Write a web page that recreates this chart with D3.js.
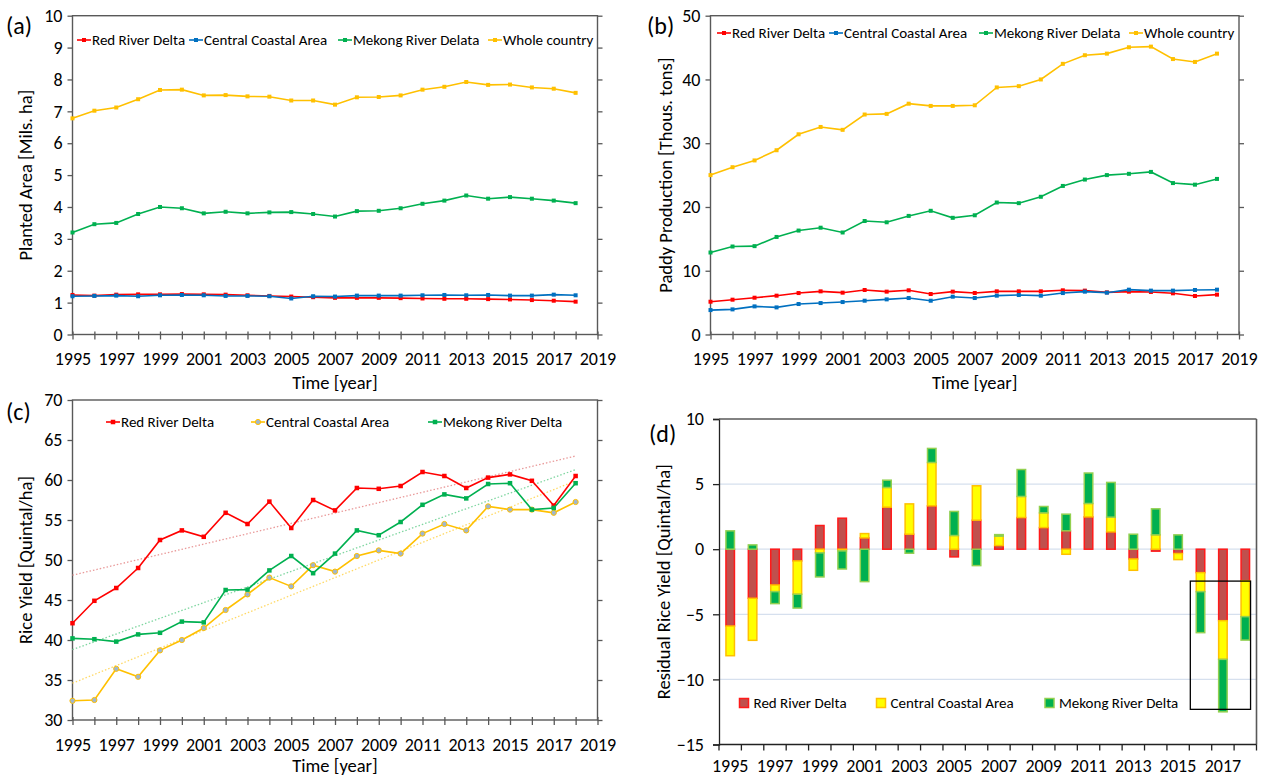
<!DOCTYPE html>
<html><head><meta charset="utf-8">
<script src="https://cdn.jsdelivr.net/npm/d3@7"></script>
<style>body{margin:0;background:#fff}svg{display:block}</style>
</head><body><svg id="chart" width="1266" height="778"></svg>
<script>
// ---------- data ----------
const years = [1995,1996,1997,1998,1999,2000,2001,2002,2003,2004,2005,2006,2007,2008,2009,2010,2011,2012,2013,2014,2015,2016,2017,2018];
const axisYears = [1995,1996,1997,1998,1999,2000,2001,2002,2003,2004,2005,2006,2007,2008,2009,2010,2011,2012,2013,2014,2015,2016,2017,2018,2019];

// (a) Planted area [Mils. ha]
const areaRed   = [1.24,1.22,1.25,1.26,1.26,1.27,1.26,1.25,1.23,1.21,1.19,1.17,1.15,1.15,1.15,1.14,1.13,1.12,1.12,1.11,1.10,1.08,1.06,1.03];
const areaBlue  = [1.20,1.21,1.22,1.20,1.23,1.24,1.23,1.21,1.21,1.20,1.13,1.20,1.19,1.22,1.22,1.22,1.23,1.24,1.23,1.24,1.22,1.22,1.25,1.23];
const areaGreen = [3.20,3.46,3.50,3.78,4.00,3.96,3.80,3.85,3.80,3.83,3.84,3.78,3.70,3.87,3.88,3.96,4.10,4.20,4.36,4.26,4.31,4.26,4.20,4.12];
const areaWhole = [6.78,7.02,7.12,7.38,7.67,7.68,7.50,7.51,7.47,7.46,7.34,7.34,7.21,7.44,7.45,7.50,7.68,7.77,7.92,7.83,7.84,7.75,7.71,7.58];

// (b) Paddy production [Thous. tons]
const prodRed   = [5.14,5.46,5.77,6.09,6.50,6.77,6.56,6.98,6.72,6.93,6.35,6.72,6.51,6.77,6.77,6.77,6.93,6.88,6.61,6.72,6.67,6.46,6.04,6.25];
const prodBlue  = [3.83,3.94,4.41,4.25,4.78,4.93,5.09,5.30,5.51,5.72,5.30,5.93,5.72,6.09,6.19,6.09,6.50,6.72,6.56,7.03,6.88,6.88,6.98,7.03];
const prodGreen = [12.86,13.80,13.86,15.30,16.30,16.75,16.00,17.80,17.60,18.60,19.40,18.30,18.70,20.70,20.60,21.60,23.30,24.30,25.00,25.20,25.50,23.75,23.50,24.40];
const prodWhole = [25.0,26.24,27.3,28.9,31.4,32.55,32.1,34.5,34.6,36.2,35.85,35.85,35.95,38.75,38.95,40.0,42.45,43.8,44.05,45.05,45.15,43.2,42.75,44.05];

// (c) Rice yield [Quintal/ha]
const yieldRed     = [42.1,44.9,46.5,49.0,52.5,53.7,52.9,55.9,54.5,57.3,54.0,57.5,56.2,59.0,58.9,59.25,61.0,60.5,59.0,60.3,60.7,59.9,56.8,60.5];
const yieldCentral = [32.4,32.5,36.4,35.4,38.7,40.0,41.5,43.75,45.7,47.8,46.7,49.35,48.55,50.5,51.2,50.8,53.3,54.5,53.7,56.7,56.3,56.3,55.9,57.25];
const yieldMekong  = [40.2,40.1,39.8,40.7,40.9,42.3,42.2,46.25,46.3,48.7,50.5,48.35,50.8,53.7,53.1,54.75,56.9,58.2,57.7,59.5,59.6,56.3,56.5,59.6];
const trendYears   = [1995,2018];
const trendRed     = [48.1,63.0];
const trendCentral = [34.6,59.9];
const trendMekong  = [38.8,61.3];

// (d) Residual rice yield [Quintal/ha]
const resRed     = [-5.9,-3.77,-2.75,-0.9,1.82,2.38,0.87,3.23,1.15,3.33,-0.59,2.23,0.28,2.43,1.66,1.41,2.48,1.33,-0.75,-0.15,-0.33,-1.8,-5.49,-2.42];
const resCentral = [-2.28,-3.23,-0.51,-2.56,-0.28,-0.13,0.33,1.51,2.33,3.33,1.05,2.64,0.72,1.62,1.13,-0.39,1.03,1.13,-0.87,1.1,-0.47,-1.46,-2.97,-2.76];
const resMekong  = [1.41,0.33,-0.92,-1.06,-1.85,-1.39,-2.49,0.56,-0.31,1.08,1.85,-1.26,0.12,2.07,0.49,1.28,2.34,2.67,1.15,2.0,1.1,-3.15,-4.03,-1.8];
const highlight  = {from:2016, to:2018, top:-2.45, bottom:-12.3};

const namesAB = ["Red River Delta","Central Coastal Area","Mekong River Delata","Whole country"];
const namesCD = ["Red River Delta","Central Coastal Area","Mekong River Delta"];

// ---------- drawing ----------
const FONT = "Carlito, Calibri, Lato, sans-serif";
const AX = "#595959";
const TICK = 18, TITLE = 18.5, LEG = 15, TAG = 24;
const svg = d3.select("#chart");

function styleText(sel, size){ sel.attr("font-family",FONT).attr("font-size",size).attr("fill","#000"); }

function linePanel(p){
  const x = d3.scaleLinear().domain([1995,2019]).range([p.x0,p.x1]);
  const y = d3.scaleLinear().domain(p.yDomain).range([p.yBot,p.yTop]);
  const g = svg.append("g");

  const yl = g.append("g").attr("transform",`translate(${p.x0},0)`)
    .call(d3.axisLeft(y).tickValues(p.yTicks).tickSize(5).tickPadding(5));
  yl.select(".domain").remove();
  yl.selectAll("line").attr("stroke",AX).attr("stroke-width",1.3);
  styleText(yl.selectAll("text"),TICK);
  const yr = g.append("g").attr("transform",`translate(${p.x1},0)`)
    .call(d3.axisRight(y).tickValues(p.yTicks).tickSize(5).tickFormat(""));
  yr.select(".domain").remove();
  yr.selectAll("line").attr("stroke",AX).attr("stroke-width",1.3);

  const xa = g.append("g").attr("transform",`translate(0,${p.yBot})`)
    .call(d3.axisBottom(x).tickValues(axisYears).tickSize(5).tickPadding(13)
      .tickFormat(d => (d % 2 === 1) ? String(d) : ""));
  xa.select(".domain").remove();
  xa.selectAll("line").attr("y1",-3).attr("stroke",AX).attr("stroke-width",1.3);
  styleText(xa.selectAll("text"),TICK);

  g.append("rect").attr("x",p.x0).attr("y",p.yTop).attr("width",p.x1-p.x0).attr("height",p.yBot-p.yTop)
    .attr("fill","none").attr("stroke",AX).attr("stroke-width",1.4);

  (p.trends||[]).forEach(t => {
    g.append("line").attr("x1",x(trendYears[0])).attr("x2",x(trendYears[1]))
      .attr("y1",y(t.v[0])).attr("y2",y(t.v[1]))
      .attr("stroke",t.color).attr("stroke-width",1.3).attr("stroke-dasharray","1.5,2");
  });

  const line = d3.line().x((d,i)=>x(years[i])).y(d=>y(d));
  p.series.forEach(s => {
    g.append("path").attr("d",line(s.v)).attr("fill","none").attr("stroke",s.color).attr("stroke-width",1.6);
    drawMarkers(g, s, s.v.map((d,i)=>[x(years[i]),y(d)]));
  });

  const xt = g.append("text").attr("x",(p.x0+p.x1)/2).attr("y",p.yBot+p.xTitleDy).attr("text-anchor","middle").text("Time [year]");
  styleText(xt,TITLE);
  const yt = g.append("text").attr("transform",`translate(${p.yTitleX},${(p.yTop+p.yBot)/2}) rotate(-90)`)
    .attr("text-anchor","middle").attr("dominant-baseline","central").text(p.yTitle);
  styleText(yt,TITLE);
  const tag = g.append("text").attr("x",p.tagX).attr("y",p.tagY).attr("dominant-baseline","central").text(p.tag);
  styleText(tag,TAG);

  p.legend.forEach(l => {
    const s = p.series[l.i];
    g.append("line").attr("x1",l.x).attr("x2",l.x+14).attr("y1",p.legendY).attr("y2",p.legendY)
      .attr("stroke",s.color).attr("stroke-width",1.6);
    drawMarkers(g, s, [[l.x+7,p.legendY]]);
    const t = g.append("text").attr("x",l.x+15).attr("y",p.legendY).attr("dominant-baseline","central").text(s.name);
    styleText(t,LEG);
  });
}

function drawMarkers(g, s, pts){
  if (s.marker === "circle"){
    g.append("g").selectAll("circle").data(pts).join("circle")
      .attr("cx",d=>d[0]).attr("cy",d=>d[1]).attr("r",2.6)
      .attr("fill",s.mfill).attr("stroke",s.color).attr("stroke-width",1);
  } else {
    const m = s.msize || 4;
    g.append("g").selectAll("rect").data(pts).join("rect")
      .attr("x",d=>d[0]-m/2).attr("y",d=>d[1]-m/2).attr("width",m).attr("height",m)
      .attr("fill",s.color);
  }
}

const RED="#ff0000", BLUE="#0070c0", GREEN="#00b050", YEL="#ffc000";

linePanel({
  x0:72.5, x1:597.5, yTop:15.7, yBot:334.5, yDomain:[0,10], yTicks:[0,1,2,3,4,5,6,7,8,9,10],
  yTitle:"Planted Area [Mils. ha]", yTitleX:25, xTitleDy:54, tag:"(a)", tagX:6, tagY:25,
  series:[
    {name:namesAB[0], v:areaRed, color:RED},
    {name:namesAB[1], v:areaBlue, color:BLUE},
    {name:namesAB[2], v:areaGreen, color:GREEN},
    {name:namesAB[3], v:areaWhole, color:YEL}],
  legendY:40, legend:[{i:0,x:77},{i:1,x:189},{i:2,x:338},{i:3,x:488}]
});

linePanel({
  x0:710.5, x1:1239, yTop:15.7, yBot:334.5, yDomain:[0,50], yTicks:[0,10,20,30,40,50],
  yTitle:"Paddy Production [Thous. tons]", yTitleX:665, xTitleDy:54, tag:"(b)", tagX:647, tagY:25,
  series:[
    {name:namesAB[0], v:prodRed, color:RED},
    {name:namesAB[1], v:prodBlue, color:BLUE},
    {name:namesAB[2], v:prodGreen, color:GREEN},
    {name:namesAB[3], v:prodWhole, color:YEL}],
  legendY:33, legend:[{i:0,x:717},{i:1,x:829},{i:2,x:979},{i:3,x:1129}]
});

linePanel({
  x0:72.5, x1:597.5, yTop:400, yBot:720, yDomain:[30,70], yTicks:[30,35,40,45,50,55,60,65,70],
  yTitle:"Rice Yield [Quintal/ha]", yTitleX:25, xTitleDy:52, tag:"(c)", tagX:6, tagY:411,
  trends:[{v:trendRed,color:"#e99a9a"},{v:trendMekong,color:"#7fd6a0"},{v:trendCentral,color:"#ffd966"}],
  series:[
    {name:namesCD[0], v:yieldRed, color:RED, msize:4.5},
    {name:namesCD[1], v:yieldCentral, color:YEL, marker:"circle", mfill:"#9fb6cf"},
    {name:namesCD[2], v:yieldMekong, color:GREEN, msize:4.5}],
  legendY:422, legend:[{i:0,x:106},{i:1,x:251},{i:2,x:428}]
});

// ---------- (d) stacked residual bars ----------
(function(){
  const x0=719, x1=1256.5, yTop=419, yBot=744.5;
  const y = d3.scaleLinear().domain([-15,10]).range([yBot,yTop]);
  const xb = d3.scaleBand().domain(years).range([x0,x1]).paddingInner(0.62).paddingOuter(0.31);
  const g = svg.append("g");

  g.append("g").selectAll("line").data([5,0,-5,-10]).join("line")
    .attr("x1",x0).attr("x2",x1).attr("y1",d=>y(d)).attr("y2",d=>y(d))
    .attr("stroke","#d6e0ee").attr("stroke-width",1.3);

  const rows = years.map((yr,i)=>({year:yr, r:resRed[i], c:resCentral[i], m:resMekong[i]}));
  const stack = d3.stack().keys(["r","c","m"]).offset(d3.stackOffsetDiverging)(rows);
  const styles = {r:{fill:"#c0504d",stroke:"#ff1a1a"}, c:{fill:"#ffff00",stroke:"#ffc000"}, m:{fill:"#00b050",stroke:"#92d050"}};
  stack.forEach(layer => {
    const st = styles[layer.key];
    g.append("g").selectAll("rect").data(layer).join("rect")
      .attr("x",d=>xb(d.data.year)).attr("width",xb.bandwidth())
      .attr("y",d=>y(Math.max(d[0],d[1]))).attr("height",d=>Math.abs(y(d[0])-y(d[1])))
      .attr("fill",st.fill).attr("stroke",st.stroke).attr("stroke-width",1.5);
  });

  const step = xb.step(), pad = step*xb.paddingInner()/2;
  g.append("rect").attr("x",xb(highlight.from)-pad+1).attr("y",y(highlight.top))
    .attr("width",(xb(highlight.to)+xb.bandwidth()+1)-(xb(highlight.from)-pad+1))
    .attr("height",y(highlight.bottom)-y(highlight.top))
    .attr("fill","none").attr("stroke","#000").attr("stroke-width",1.3);

  const yl = g.append("g").attr("transform",`translate(${x0},0)`)
    .call(d3.axisLeft(y).tickValues([-15,-10,-5,0,5,10]).tickSize(6).tickPadding(9));
  yl.select(".domain").attr("stroke","#222").attr("stroke-width",1.3);
  yl.selectAll("line").attr("stroke","#222").attr("stroke-width",1.3);
  styleText(yl.selectAll("text"),TICK);

  g.append("line").attr("x1",x0).attr("x2",x1).attr("y1",yTop).attr("y2",yTop).attr("stroke",AX).attr("stroke-width",1.6);
  g.append("line").attr("x1",x1).attr("x2",x1).attr("y1",yTop).attr("y2",yBot).attr("stroke",AX).attr("stroke-width",1.6);

  const bounds = years.map(yr => xb(yr)-pad).concat([x1]);
  g.append("line").attr("x1",x0).attr("x2",x1).attr("y1",yBot).attr("y2",yBot).attr("stroke","#222").attr("stroke-width",1.3);
  g.append("g").selectAll("line").data(bounds).join("line")
    .attr("x1",d=>d).attr("x2",d=>d).attr("y1",yBot).attr("y2",yBot+6).attr("stroke","#222").attr("stroke-width",1.3);
  const lab = g.append("g").selectAll("text").data(years.filter(yr=>yr%2===1)).join("text")
    .attr("x",yr=>xb(yr)+xb.bandwidth()/2).attr("y",yBot+27).attr("text-anchor","middle").text(d=>String(d));
  styleText(lab,TICK);

  const yt = g.append("text").attr("transform",`translate(663,${(yTop+yBot)/2}) rotate(-90)`)
    .attr("text-anchor","middle").attr("dominant-baseline","central").text("Residual Rice Yield [Quintal/ha]");
  styleText(yt,TITLE);
  const tag = g.append("text").attr("x",649).attr("y",433).attr("dominant-baseline","central").text("(d)");
  styleText(tag,TAG);

  const leg = [{k:"r",x:739.5,name:namesCD[0]},{k:"c",x:876.5,name:namesCD[1]},{k:"m",x:1045,name:namesCD[2]}];
  const ly = 703;
  leg.forEach(l => {
    g.append("rect").attr("x",l.x).attr("y",ly-4.5).attr("width",9).attr("height",9)
      .attr("fill",styles[l.k].fill).attr("stroke",styles[l.k].stroke).attr("stroke-width",1.5);
    const t = g.append("text").attr("x",l.x+14).attr("y",ly).attr("dominant-baseline","central").text(l.name);
    styleText(t,LEG);
  });
})();
</script>
</body></html>
